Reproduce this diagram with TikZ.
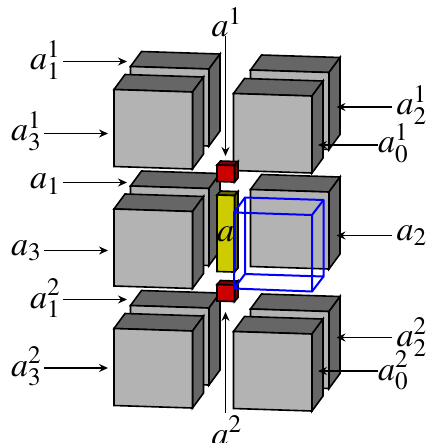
\documentclass[tikz,border=0pt]{standalone}
\usepackage{mathptmx}
\usepackage{amsmath}
\usetikzlibrary{calc, positioning}
\usetikzlibrary{arrows.meta}

\definecolor{faceL}{RGB}{179,179,179}
\definecolor{faceD}{RGB}{102,102,102}
\definecolor{rodL}{RGB}{204,204,0}
\definecolor{rodD}{RGB}{102,102,0}
\definecolor{capL}{RGB}{204,0,0}
\definecolor{capD}{RGB}{128,0,0}

\tikzset{
  boxline/.style={draw=black, line width=1.6pt, line join=miter},
  wire/.style={draw=blue, line width=2pt, line join=round},
  pointer/.style={-{Stealth[length=9pt, width=8pt, inset=3pt]}, line width=1.6pt, black},
  lab/.style={inner sep=0pt, anchor=base west, font=\fontsize{34}{34}\selectfont}
}

% #1,#2 front top left, #3 width, #4 height, #5,#6 depth, #7 light, #8 dark
\newcommand{\solidbox}[8]{
  \path[boxline, fill=#8] (#1,#2) -- ++(#5,#6) -- ++(#3,0.032*#3) -- ++(-#5,-#6) -- cycle;
  \path[boxline, fill=#8] ($(#1,#2)+(#3,0.032*#3)$) -- ++(#5,#6) -- ++(0,#4) -- ++(-#5,-#6) -- cycle;
  \path[boxline, fill=#7] (#1,#2) -- ++(#3,0.032*#3) -- ++(0,#4) -- ++(-#3,-0.032*#3) -- cycle;
}

\begin{document}
\begin{tikzpicture}[x=1pt,y=-1pt]
\useasboundingbox (0,0) rectangle (425,443);

% Back and front blocks, layer by layer
\foreach \ly in {239,119.5,0}{
  \solidbox{130.5}{66.5+\ly}{78.5}{77}{11}{-15}{faceL}{faceD}
  \solidbox{114}{89.5+\ly}{78.5}{77}{11}{-15}{faceL}{faceD}
  \solidbox{250.5}{70+\ly}{78.5}{77}{11}{-15}{faceL}{faceD}
}
\foreach \ly in {238,0}{
  \solidbox{233.5}{93.5+\ly}{78.5}{77}{11}{-15}{faceL}{faceD}
}

% Centre rod and its two caps
\solidbox{217}{195}{17.5}{76.5}{3.5}{-4}{rodL}{rodD}
\solidbox{217}{165}{17.5}{16.5}{3.5}{-4}{capL}{capD}
\solidbox{217}{284.5}{17.5}{16.5}{3.5}{-4}{capL}{capD}

% Wire block
\coordinate (F1) at (234,212.5);
\coordinate (F2) at (312,215);
\coordinate (F3) at (312,291.5);
\coordinate (F4) at (234,288.5);
\coordinate (K1) at (245,197.5);
\coordinate (K2) at (323.5,200);
\coordinate (K3) at (323.5,276.5);
\coordinate (K4) at (245,274);
\draw[wire] (K1) -- (K2) -- (K3) -- (K4) -- cycle;
\draw[wire] (F1) -- (F2) -- (F3) -- (F4) -- cycle;
\draw[wire] (F1) -- (K1) (F2) -- (K2) (F3) -- (K3) (F4) -- (K4);

% Labels
\node[lab] (a11) at (30,70) {$a_1^1$};
\node[lab] (a31) at (11,141) {$a_3^1$};
\node[lab] (a1) at (30,189) {$a_1$};
\node[lab] (a3) at (11,255.5) {$a_3$};
\node[lab] (a12) at (30,308) {$a_1^2$};
\node[lab] (a32) at (11,376) {$a_3^2$};
\node[lab] (a21) at (396.5,115) {$a_2^1$};
\node[lab] (a01) at (378,153) {$a_0^1$};
\node[lab] (a2) at (396.5,240.5) {$a_2$};
\node[lab] (a22) at (396.5,346.5) {$a_2^2$};
\node[lab] (a02) at (378,380) {$a_0^2$};
\node[lab] (aU) at (211.5,36.5) {$a^1$};
\node[lab] (aD) at (211.5,445) {$a^2$};
\node[lab] (a) at (217,241.5) {$a$};

% Pointers
\coordinate (p11) at (127,61.5);
\coordinate (p31) at (108,133.5);
\coordinate (p1) at (127,182.5);
\coordinate (p3) at (108,250.5);
\coordinate (p12) at (127,299.5);
\coordinate (p32) at (108,368);
\coordinate (p21) at (336.5,107);
\coordinate (p01) at (318,145);
\coordinate (p2) at (336.5,235.5);
\coordinate (p22) at (336.5,337.5);
\coordinate (p02) at (318,371);
\coordinate (pU) at (225.5,156);
\coordinate (pD) at (225.5,312);
\draw[pointer, shorten <=3pt] (a11.east |- p11) -- (p11);
\draw[pointer, shorten <=3pt] (a31.east |- p31) -- (p31);
\draw[pointer, shorten <=3pt] (a1.east |- p1) -- (p1);
\draw[pointer, shorten <=3pt] (a3.east |- p3) -- (p3);
\draw[pointer, shorten <=3pt] (a12.east |- p12) -- (p12);
\draw[pointer, shorten <=3pt] (a32.east |- p32) -- (p32);
\draw[pointer, shorten <=4.5pt] (a21.west |- p21) -- (p21);
\draw[pointer] (a01.west |- p01) -- (p01);
\draw[pointer, shorten <=4.5pt] (a2.west |- p2) -- (p2);
\draw[pointer, shorten <=4.5pt] (a22.west |- p22) -- (p22);
\draw[pointer] (a02.west |- p02) -- (p02);
\draw[pointer] (pU |- aU.base) -- (pU);
\draw[pointer, shorten <=3pt] (pD |- aD.north) -- (pD);
\end{tikzpicture}
\end{document}
